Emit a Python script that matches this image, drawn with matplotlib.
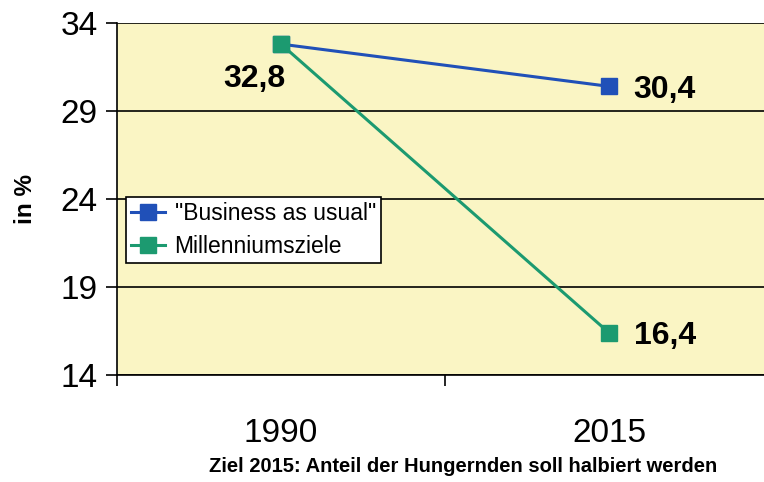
import numpy as np
import matplotlib.pyplot as plt

plt.rcParams['font.family'] = ['Liberation Sans', 'DejaVu Sans']

# Daten
jahre = ["1990", "2015"]
business_as_usual = [32.8, 30.4]
millenniumsziele = [32.8, 16.4]
beschriftung_bau = ["", "30,4"]
beschriftung_mz = ["32,8", "16,4"]
y_ticks = [14, 19, 24, 29, 34]

blau = "#2050b8"
gruen = "#1c9a70"
gelb = "#faf5c4"

fig = plt.figure(figsize=(7.64, 4.82), dpi=100)
ax = fig.add_axes([117/764, 1 - 375/482, (773 - 117)/764, (375 - 23)/482])
ax.set_facecolor(gelb)

x = np.arange(len(jahre))
ax.plot(x, business_as_usual, color=blau, lw=2.2, marker="s", ms=12,
        label='"Business as usual"')
ax.plot(x, millenniumsziele, color=gruen, lw=2.2, marker="s", ms=12,
        label="Millenniumsziele")

ax.set_xlim(-0.5, 1.5)
ax.set_ylim(14, 34)
ax.set_yticks(y_ticks)
ax.set_yticklabels([str(t) for t in y_ticks], fontsize=24)
ax.set_xticks(x)
ax.set_xticklabels(jahre, fontsize=24)
ax.set_xticks([-0.5, 0.5, 1.5], minor=True)
ax.tick_params(axis="x", which="major", length=0, pad=31)
ax.tick_params(axis="x", which="minor", length=8, width=1.2, direction="out")
ax.tick_params(axis="y", length=8, width=1.2, direction="out", pad=6)

ax.grid(axis="y", color="black", lw=1.2)
ax.set_axisbelow(True)
for s in ["top", "right"]:
    ax.spines[s].set_visible(False)
for s in ["left", "bottom"]:
    ax.spines[s].set_linewidth(1.2)

# Datenbeschriftungen
ax.text(x[0] - 0.08, millenniumsziele[0] - 2.0, beschriftung_mz[0], fontsize=23,
        fontweight="bold", ha="center", va="center")
ax.text(x[1] + 0.17, business_as_usual[1] - 0.2, beschriftung_bau[1], fontsize=23,
        fontweight="bold", ha="center", va="center")
ax.text(x[1] + 0.17, millenniumsziele[1] - 0.2, beschriftung_mz[1], fontsize=23,
        fontweight="bold", ha="center", va="center")

ax.set_ylabel("in %", fontsize=17.5, fontweight="bold", labelpad=17)

leg = ax.legend(loc="upper left", bbox_to_anchor=(9/656, 1 - 174/352),
                fontsize=16.5, frameon=True, fancybox=False, edgecolor="black",
                borderaxespad=0, handlelength=1.5, labelspacing=0.42,
                borderpad=0.22, handletextpad=0.4, framealpha=1)
leg.get_frame().set_linewidth(1.2)

fig.text(463/764, 1 - 467/482, "Ziel 2015: Anteil der Hungernden soll halbiert werden",
         fontsize=14.5, fontweight="bold", ha="center", va="center")

fig.savefig("out.png", dpi=100)
